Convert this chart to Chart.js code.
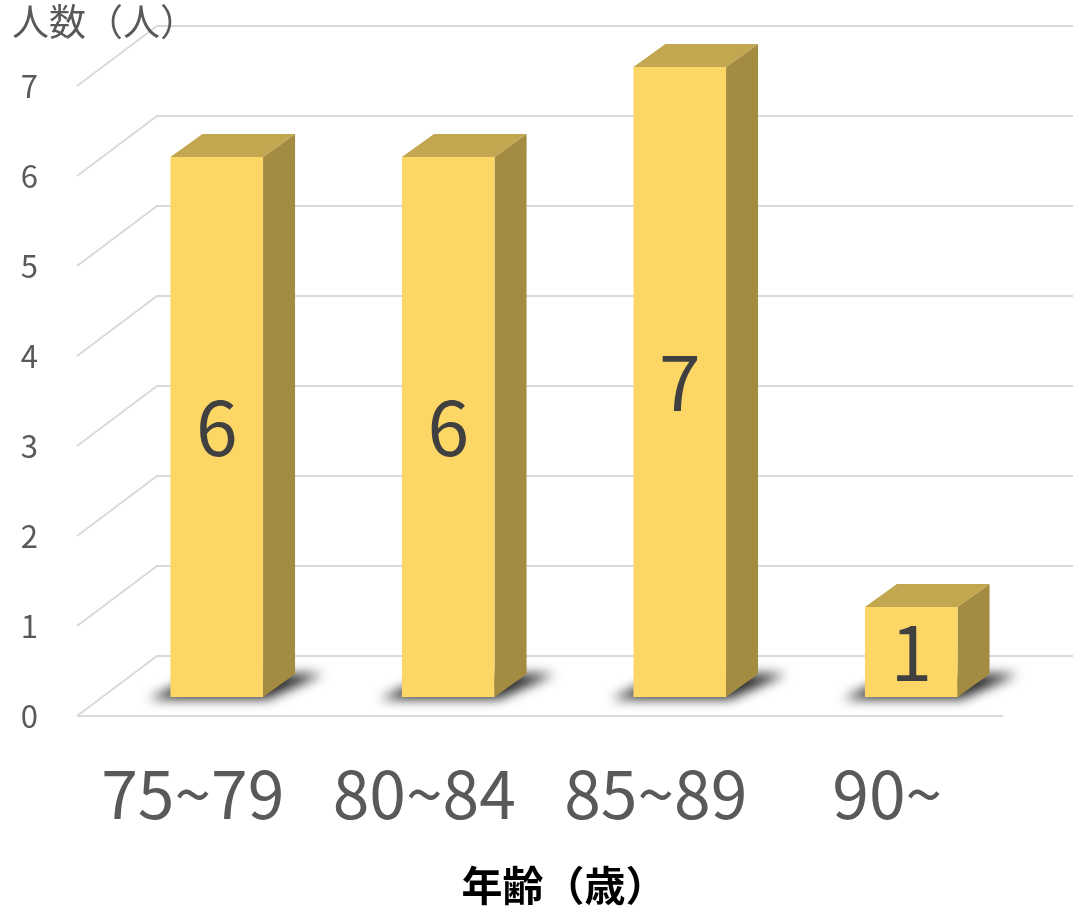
<!DOCTYPE html>
<html lang="ja">
<head>
<meta charset="utf-8">
<title>年齢別人数</title>
<script src="https://cdn.jsdelivr.net/npm/chart.js@4.4.1/dist/chart.umd.min.js"></script>
<style>
    html, body { margin: 0; padding: 0; background: #ffffff; }
    #wrap { position: relative; width: 1073px; height: 910px; }
</style>
</head>
<body>
<div id="wrap"><canvas id="ageChart"></canvas></div>
<script>
// Chart data
const ageGroups = ['75~79', '80~84', '85~89', '90~'];
const headcounts = [6, 6, 7, 1];
const countTicks = [0, 1, 2, 3, 4, 5, 6, 7];

const FONT = '"Noto Sans CJK JP", "Noto Sans", sans-serif';

// Perspective offsets relative to the bar front plane (the chart area)
const BACK = { dx: 56, dy: -41 };   // back wall
const FRONT = { dx: -24, dy: 19 };  // front edge of floor
const DEPTH = { dx: 32, dy: -23 };  // depth of each box

const colors = {
    front: '#fcd766',
    top: '#c2a650',
    side: '#a48b42',
    grid: '#d9d9d9',
    tick: '#595959',
    value: '#404040'
};

function poly(ctx, pts, fill) {
    ctx.beginPath();
    ctx.moveTo(pts[0][0], pts[0][1]);
    for (let i = 1; i < pts.length; i++) ctx.lineTo(pts[i][0], pts[i][1]);
    ctx.closePath();
    ctx.fillStyle = fill;
    ctx.fill();
}

// Walls, floor and the soft shadows under each box
const floorPlugin = {
    id: 'floor',
    beforeDatasetsDraw(chart) {
        const ctx = chart.ctx;
        const xs = chart.scales.x;
        const ys = chart.scales.y;
        ctx.save();
        ctx.strokeStyle = colors.grid;
        ctx.lineWidth = 2;
        countTicks.forEach(v => {
            const y = ys.getPixelForValue(v);
            ctx.beginPath();
            ctx.moveTo(xs.left + FRONT.dx, y + FRONT.dy);
            ctx.lineTo(xs.left + BACK.dx, y + BACK.dy);
            ctx.lineTo(xs.right + BACK.dx, y + BACK.dy);
            ctx.stroke();
        });
        const y0 = ys.getPixelForValue(0);
        ctx.beginPath();
        ctx.moveTo(xs.left + FRONT.dx, y0 + FRONT.dy);
        ctx.lineTo(xs.right + FRONT.dx, y0 + FRONT.dy);
        ctx.stroke();

        // shadows
        const meta = chart.getDatasetMeta(0);
        ctx.filter = 'blur(6px)';
        meta.data.forEach(bar => {
            const l = bar.x - bar.width / 2;
            const r = bar.x + bar.width / 2;
            const b = bar.base;
            poly(ctx, [
                [l - 22, b + 2],
                [r + 4, b + 2],
                [r + DEPTH.dx + 28, b + DEPTH.dy],
                [l + DEPTH.dx, b + DEPTH.dy]
            ], 'rgba(0,0,0,0.85)');
        });
        ctx.restore();
    },
    afterDatasetsDraw(chart) {
        const ctx = chart.ctx;
        const meta = chart.getDatasetMeta(0);
        ctx.save();
        meta.data.forEach((bar, i) => {
            const l = bar.x - bar.width / 2;
            const r = bar.x + bar.width / 2;
            const t = bar.y;
            const b = bar.base;
            // side face
            poly(ctx, [[r, t], [r + DEPTH.dx, t + DEPTH.dy], [r + DEPTH.dx, b + DEPTH.dy], [r, b]], colors.side);
            // top face
            poly(ctx, [[l, t], [l + DEPTH.dx, t + DEPTH.dy], [r + DEPTH.dx, t + DEPTH.dy], [r, t]], colors.top);
            // front face
            poly(ctx, [[l, t], [r, t], [r, b], [l, b]], colors.front);

            // value label
            ctx.fillStyle = colors.value;
            ctx.font = '75px ' + FONT;
            ctx.textAlign = 'center';
            ctx.textBaseline = 'middle';
            ctx.fillText(String(headcounts[i]), bar.x, (t + b) / 2);
        });
        ctx.restore();
    },
    afterDraw(chart) {
        const ctx = chart.ctx;
        ctx.save();
        ctx.fillStyle = colors.tick;
        ctx.font = '37px ' + FONT;
        ctx.textAlign = 'left';
        ctx.textBaseline = 'middle';
        ctx.fillText('人数（人）', 12, 22);
        ctx.restore();
    }
};

const chart = new Chart(document.getElementById('ageChart'), {
    type: 'bar',
    data: {
        labels: ageGroups,
        datasets: [{
            label: '人数',
            data: headcounts,
            backgroundColor: 'rgba(0,0,0,0)',
            borderWidth: 0,
            categoryPercentage: 1,
            barPercentage: 0.4
        }]
    },
    options: {
        responsive: true,
        maintainAspectRatio: false,
        animation: false,
        layout: { padding: { top: 67, right: 46, left: 0, bottom: 0 } },
        plugins: {
            legend: { display: false },
            tooltip: { enabled: false }
        },
        scales: {
            x: {
                grid: { display: false },
                border: { display: false },
                ticks: {
                    color: colors.tick,
                    font: { family: FONT, size: 66 },
                    labelOffset: FRONT.dx,
                    padding: 49,
                    maxRotation: 0
                },
                title: {
                    display: true,
                    text: '年齢（歳）',
                    color: '#000000',
                    font: { family: FONT, size: 41, weight: 'bold' },
                    padding: { top: 0, bottom: 0 }
                },
                afterFit(scale) {
                    scale.height = 213;
                    scale.paddingLeft = 0;
                    scale.paddingRight = 0;
                }
            },
            y: {
                min: 0,
                max: 7,
                grid: { display: false },
                border: { display: false },
                ticks: {
                    stepSize: 1,
                    color: colors.tick,
                    font: { family: FONT, size: 31 },
                    labelOffset: FRONT.dy,
                    padding: 55
                },
                afterFit(scale) {
                    scale.width = 101;
                    scale.paddingTop = 0;
                    scale.paddingBottom = 0;
                }
            }
        }
    },
    plugins: [floorPlugin]
});
</script>
</body>
</html>
